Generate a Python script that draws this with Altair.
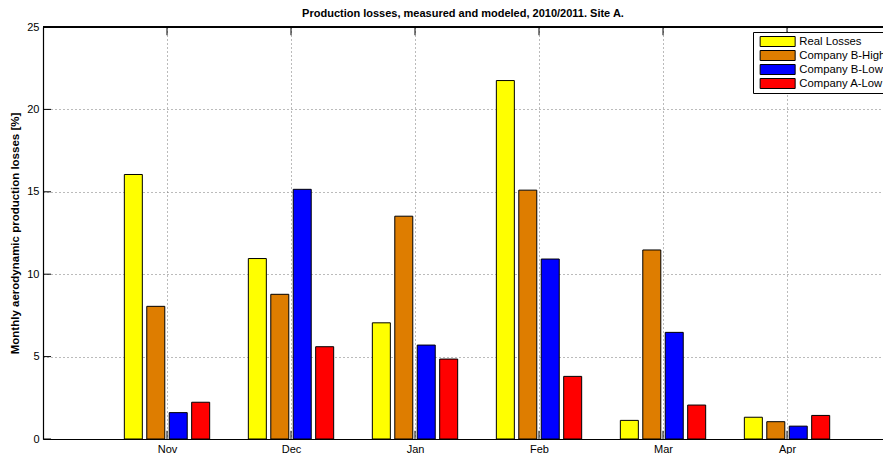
import altair as alt
import pandas as pd

months = ["Nov", "Dec", "Jan", "Feb", "Mar", "Apr"]
series = ["Real Losses", "Company B-High", "Company B-Low", "Company A-Low"]
colors = ["#FFFF00", "#DE7D00", "#0000FF", "#FF0000"]
real_losses = [16.05, 10.95, 7.05, 21.75, 1.13, 1.32]
company_b_high = [8.05, 8.78, 13.52, 15.1, 11.47, 1.05]
company_b_low = [1.6, 15.15, 5.7, 10.92, 6.47, 0.78]
company_a_low = [2.23, 5.6, 4.85, 3.8, 2.06, 1.43]
y_ticks = [0, 5, 10, 15, 20, 25]
x_ticks = [1, 2, 3, 4, 5, 6]

values = [real_losses, company_b_high, company_b_low, company_a_low]
rows = []
for si, (s, vals) in enumerate(zip(series, values)):
    for mi, (m, v) in enumerate(zip(months, vals)):
        rows.append({"month": m, "idx": mi + 1, "series": s, "sidx": si, "value": v})
df = pd.DataFrame(rows)

FONT = "Liberation Sans"
X_MAX = 6.774
xscale = alt.Scale(domain=[0, X_MAX], nice=False, zero=False)
yscale = alt.Scale(domain=[0, 25], nice=False)

label_expr = "datum.value == 1 ? 'Nov' : datum.value == 2 ? 'Dec' : datum.value == 3 ? 'Jan' : datum.value == 4 ? 'Feb' : datum.value == 5 ? 'Mar' : datum.value == 6 ? 'Apr' : ''"

bars = alt.Chart(df).transform_calculate(
    xc="datum.idx + (datum.sidx - 1.5) * 0.181"
).transform_calculate(
    x0="datum.xc - 0.0726", x1="datum.xc + 0.0726"
).mark_bar(stroke="black", strokeWidth=1, opacity=1).encode(
    x=alt.X("x0:Q", scale=xscale,
            axis=alt.Axis(values=x_ticks, labelExpr=label_expr, title=None, grid=True,
                          gridDash=[1, 3], gridColor="#777", ticks=False,
                          domainColor="black", domainWidth=1.2, labelFont=FONT,
                          labelFontSize=11, labelColor="black", labelPadding=4)),
    x2="x1:Q",
    y=alt.Y("value:Q", scale=yscale,
            axis=alt.Axis(values=y_ticks, title="Monthly aerodynamic production losses [%]",
                          grid=True, gridDash=[1, 3], gridColor="#777", ticks=False,
                          domainColor="black", domainWidth=1.2, labelFont=FONT,
                          labelFontSize=11, labelColor="black", labelPadding=4,
                          titleFont=FONT, titleFontSize=11.5, titleFontWeight="bold",
                          titlePadding=6, titleColor="black")),
    y2=alt.datum(0),
    color=alt.Color("series:N", scale=alt.Scale(domain=series, range=colors),
                    legend=alt.Legend(title=None, orient="none", legendX=710, legendY=5,
                                      symbolType="M-3.5,-1H3.5V1H-3.5Z", symbolSize=100,
                                      symbolOffset=15, clipHeight=11,
                                      symbolStrokeColor="black", symbolStrokeWidth=1,
                                      symbolOpacity=1, labelFont=FONT, labelFontSize=11.3,
                                      labelColor="black", labelOffset=16, rowPadding=2,
                                      padding=4, strokeColor="black", fillColor="white",
                                      cornerRadius=0)),
)

tick_df_y = pd.DataFrame({"t": y_ticks})
tick_df_x = pd.DataFrame({"t": x_ticks})

yt = alt.Chart(tick_df_y).mark_rule(color="black", strokeWidth=1).encode(
    y=alt.Y("t:Q", scale=yscale), x=alt.datum(0, scale=xscale), x2=alt.datum(0.065))
xt_bottom = alt.Chart(tick_df_x).mark_rule(color="black", strokeWidth=1).encode(
    x=alt.X("t:Q", scale=xscale), y=alt.datum(0), y2=alt.datum(0.5))
xt_top = alt.Chart(tick_df_x).mark_rule(color="black", strokeWidth=1).encode(
    x=alt.X("t:Q", scale=xscale), y=alt.datum(25), y2=alt.datum(24.5))
top_line = alt.Chart(tick_df_x).mark_rule(color="black", strokeWidth=1.2).encode(
    x=alt.datum(0), x2=alt.datum(X_MAX), y=alt.datum(25))

chart = alt.layer(bars, yt, xt_bottom, xt_top, top_line).properties(
    width=840, height=412,
    title=alt.TitleParams("Production losses, measured and modeled, 2010/2011. Site A.",
                          font=FONT, fontSize=11, fontWeight="bold", color="black",
                          offset=2, anchor="middle"),
    autosize=alt.AutoSizeParams(type="none"),
    padding={"left": 35, "top": 19, "right": 0, "bottom": 15},
).configure_view(stroke=None)

chart.save("out.html", embed_options={"renderer": "svg", "actions": False})
